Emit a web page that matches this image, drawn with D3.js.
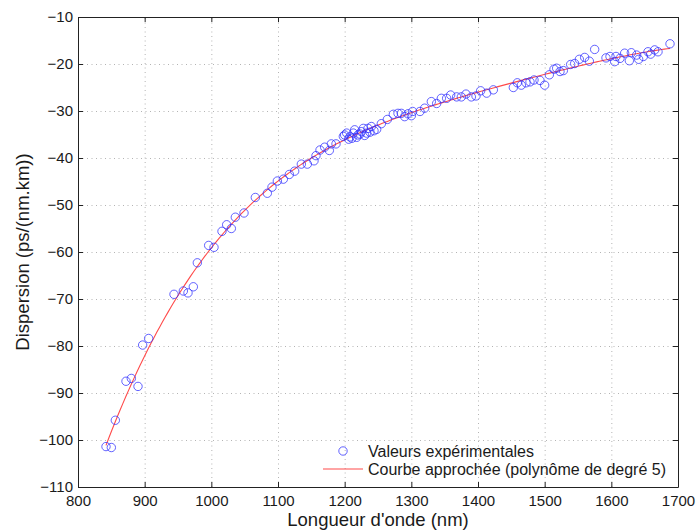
<!DOCTYPE html>
<html>
<head>
<meta charset="utf-8">
<script src="https://cdn.jsdelivr.net/npm/d3@7"></script>
<style>
  body { margin: 0; background: #fff; }
  text { font-family: "Liberation Sans", Arial, sans-serif; fill: #1a1a1a; }
  .frame line, .frame path { stroke: #222; }
  .grid line { stroke: #b4b4b4; stroke-dasharray: 1,3.5; }
  .grid path { display: none; }
</style>
</head>
<body>
<svg id="chart" width="696" height="532"></svg>
<script>
// measured points: wavelength (nm) and dispersion (ps/(nm.km))
const waveLength = [
  842, 850, 856, 872, 880, 890, 897, 906, 944, 958, 965, 973, 979, 996, 1004,
  1016, 1023, 1030, 1036, 1049, 1066, 1084, 1091, 1099, 1108, 1117, 1125, 1135,
  1144, 1154, 1157, 1163, 1170, 1177, 1180, 1187, 1198, 1200, 1203, 1206, 1208,
  1211, 1213, 1215, 1218, 1220, 1223, 1225, 1228, 1230, 1233, 1235, 1238, 1240,
  1244, 1248, 1255, 1264, 1273, 1280, 1285, 1290, 1295, 1300, 1302, 1313, 1320,
  1330, 1338, 1345, 1353, 1359, 1368, 1375, 1382, 1390, 1397, 1404, 1413, 1423,
  1453, 1459, 1465, 1472, 1478, 1484, 1493, 1500, 1507, 1514, 1518, 1523, 1528,
  1539, 1545, 1552, 1560, 1567, 1575, 1592, 1598, 1605, 1607, 1613, 1620, 1627,
  1630, 1638, 1641, 1648, 1655, 1659, 1665, 1670, 1688
];
const dispersion = [
  -101.4, -101.6, -95.8, -87.5, -86.9, -88.6, -79.8, -78.4, -69.0, -68.3, -68.7, -67.4, -62.3, -58.6, -59.0,
  -55.6, -54.2, -55.0, -52.6, -51.7, -48.4, -47.5, -46.2, -44.9, -44.5, -43.5, -42.8, -41.3,
  -41.3, -40.6, -39.5, -38.3, -37.7, -38.4, -37.0, -37.0, -35.4, -35.1, -34.7, -36.0, -35.5,
  -35.8, -34.7, -34.0, -35.6, -35.1, -34.9, -34.4, -33.7, -35.2, -34.7, -33.7, -34.5, -33.3,
  -34.2, -33.9, -32.7, -31.8, -30.7, -30.5, -30.5, -31.2, -30.6, -31.0, -30.1, -30.1, -29.4,
  -28.0, -28.4, -27.3, -27.3, -26.6, -27.0, -27.0, -26.4, -27.0, -26.8, -25.7, -26.2, -25.5,
  -25.0, -24.0, -24.5, -24.0, -23.8, -23.4, -23.5, -24.5, -22.3, -21.1, -20.9, -21.6, -21.4,
  -20.1, -19.9, -19.0, -18.6, -19.4, -16.9, -18.7, -18.4, -19.5, -18.4, -18.8, -17.7, -19.3,
  -17.6, -18.1, -19.0, -18.4, -17.4, -17.9, -17.0, -17.4, -15.7
];

const xTicks = [800, 900, 1000, 1100, 1200, 1300, 1400, 1500, 1600, 1700];
const yTicks = [-110, -100, -90, -80, -70, -60, -50, -40, -30, -20, -10];
const legendLabels = ["Valeurs expérimentales", "Courbe approchée (polynôme de degré 5)"];
const polyDegree = 5;

// least squares polynomial fit (x normalised to keep it stable)
function polyFit(xs, ys, deg) {
  const mid = d3.mean(xs), half = (d3.max(xs) - d3.min(xs)) / 2;
  const n = deg + 1;
  const A = Array.from({length: n}, () => new Array(n + 1).fill(0));
  xs.forEach((xv, k) => {
    const t = (xv - mid) / half;
    const pw = [];
    for (let i = 0; i < 2 * n; i++) pw.push(Math.pow(t, i));
    for (let i = 0; i < n; i++) {
      for (let j = 0; j < n; j++) A[i][j] += pw[i + j];
      A[i][n] += pw[i] * ys[k];
    }
  });
  for (let c = 0; c < n; c++) {
    let p = c;
    for (let r = c + 1; r < n; r++) if (Math.abs(A[r][c]) > Math.abs(A[p][c])) p = r;
    [A[c], A[p]] = [A[p], A[c]];
    for (let r = 0; r < n; r++) {
      if (r === c) continue;
      const f = A[r][c] / A[c][c];
      for (let j = c; j <= n; j++) A[r][j] -= f * A[c][j];
    }
  }
  const coef = A.map((row, i) => row[n] / row[i]);
  return xv => {
    const t = (xv - mid) / half;
    return coef.reduce((s, c, i) => s + c * Math.pow(t, i), 0);
  };
}

function drawChart() {
  const svg = d3.select('#chart');
  const left = 78, right = 678, top = 17, bottom = 487;

  const x = d3.scaleLinear().domain([800, 1700]).range([left, right]);
  const y = d3.scaleLinear().domain([-110, -10]).range([bottom, top]);

  // dotted grid
  svg.append('g').attr('class', 'grid')
     .attr('transform', `translate(0,${bottom})`)
     .call(d3.axisBottom(x).tickValues(xTicks.slice(1, -1)).tickSize(-(bottom - top)).tickFormat(''));
  svg.append('g').attr('class', 'grid')
     .attr('transform', `translate(${left},0)`)
     .call(d3.axisLeft(y).tickValues(yTicks.slice(1, -1)).tickSize(-(right - left)).tickFormat(''));

  // fitted curve
  const fit = polyFit(waveLength, dispersion, polyDegree);
  const [xmin, xmax] = d3.extent(waveLength);
  const curve = d3.range(xmin, xmax + 0.1, (xmax - xmin) / 200).map(v => [v, fit(v)]);
  svg.append('path')
     .datum(curve)
     .attr('fill', 'none')
     .attr('stroke', '#ff4a4a')
     .attr('stroke-width', 1.1)
     .attr('d', d3.line().x(d => x(d[0])).y(d => y(d[1])));

  // experimental points
  svg.append('g').selectAll('circle')
     .data(waveLength)
     .enter()
     .append('circle')
     .attr('cx', d => x(d))
     .attr('cy', (d, i) => y(dispersion[i]))
     .attr('r', 4.2)
     .attr('fill', 'none')
     .attr('stroke', '#2f2fff')
     .attr('stroke-opacity', 0.75)
     .attr('stroke-width', 1);

  // box with inward ticks
  const fs = '15px';
  const bx = svg.append('g').attr('class', 'frame')
     .attr('transform', `translate(0,${bottom})`)
     .call(d3.axisBottom(x).tickValues(xTicks).tickFormat(d3.format('d'))
       .tickSizeInner(-5).tickSizeOuter(0).tickPadding(8));
  bx.selectAll('text').style('font-size', fs);
  svg.append('g').attr('class', 'frame')
     .attr('transform', `translate(0,${top})`)
     .call(d3.axisTop(x).tickValues(xTicks).tickSizeInner(-5).tickSizeOuter(0).tickFormat(''));
  const ly = svg.append('g').attr('class', 'frame')
     .attr('transform', `translate(${left},0)`)
     .call(d3.axisLeft(y).tickValues(yTicks).tickSizeInner(-5).tickSizeOuter(0).tickPadding(5));
  ly.selectAll('text').style('font-size', fs);
  svg.append('g').attr('class', 'frame')
     .attr('transform', `translate(${right},0)`)
     .call(d3.axisRight(y).tickValues(yTicks).tickSizeInner(-5).tickSizeOuter(0).tickFormat(''));
  svg.selectAll('.frame .domain').attr('stroke', '#222');

  // axis titles
  svg.append('text')
     .attr('x', (left + right) / 2)
     .attr('y', 526)
     .attr('text-anchor', 'middle')
     .style('font-size', '18.5px')
     .text("Longueur d'onde (nm)");
  svg.append('text')
     .attr('transform', `translate(29,${(top + bottom) / 2}) rotate(-90)`)
     .attr('text-anchor', 'middle')
     .style('font-size', '18.5px')
     .text('Dispersion (ps/(nm.km))');

  // legend
  const lfs = '16px';
  const lg = svg.append('g');
  lg.append('circle')
    .attr('cx', 343).attr('cy', 451).attr('r', 4.2)
    .attr('fill', 'none').attr('stroke', '#2f2fff').attr('stroke-opacity', 0.75);
  lg.append('text').attr('x', 368).attr('y', 456.5).style('font-size', lfs).text(legendLabels[0]);
  lg.append('line')
    .attr('x1', 323).attr('x2', 363).attr('y1', 469).attr('y2', 469)
    .attr('stroke', '#ff4a4a').attr('stroke-width', 1.1);
  lg.append('text').attr('x', 368).attr('y', 474.5).style('font-size', lfs).text(legendLabels[1]);
}

drawChart();
</script>
</body>
</html>
